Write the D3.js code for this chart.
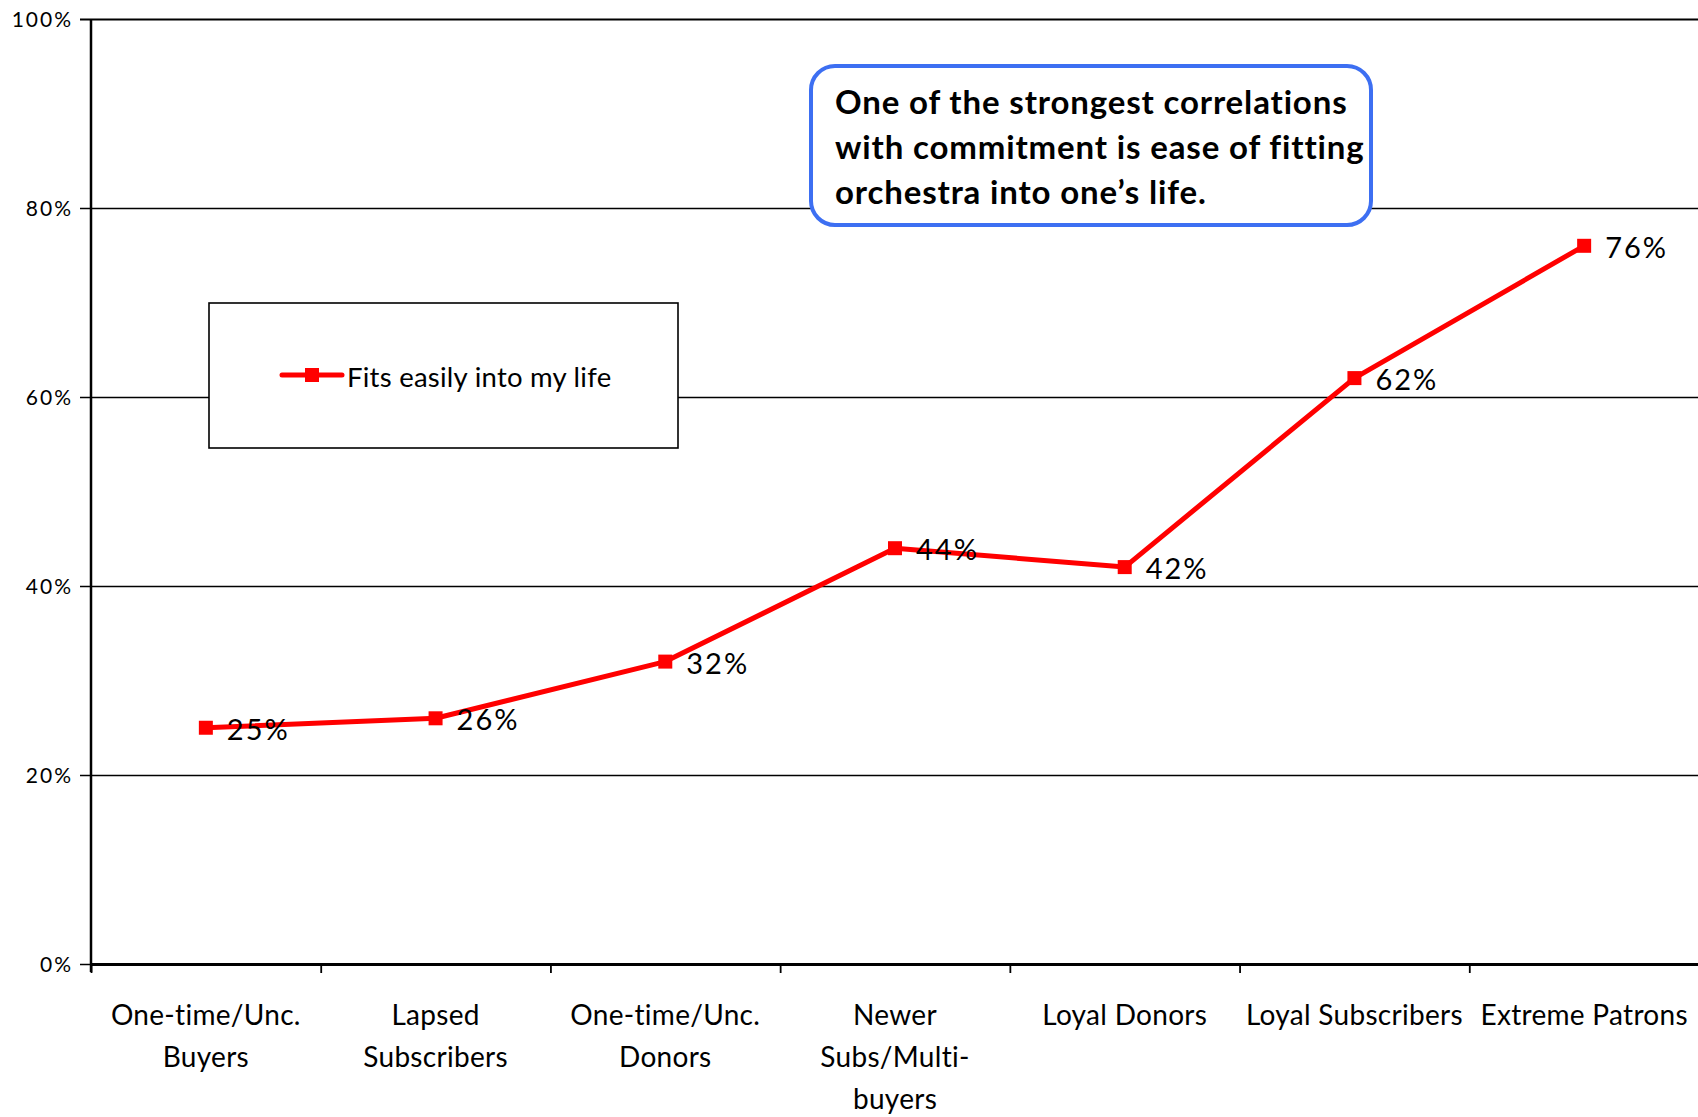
<!DOCTYPE html>
<html>
<head>
<meta charset="utf-8">
<script src="https://cdn.jsdelivr.net/npm/d3@7"></script>
<style>
  html, body { margin: 0; padding: 0; background: #fff; }
  svg { display: block; font-family: "Lato", "Open Sans", sans-serif; }
</style>
</head>
<body>
<svg id="chart" width="1698" height="1117"></svg>
<script>
// Segment names (with the line breaks used under the axis)
const categories = [
  "One-time/Unc. Buyers",
  "Lapsed Subscribers",
  "One-time/Unc. Donors",
  "Newer Subs/Multi-buyers",
  "Loyal Donors",
  "Loyal Subscribers",
  "Extreme Patrons"
];
const categoryLines = [
  ["One-time/Unc.", "Buyers"],
  ["Lapsed", "Subscribers"],
  ["One-time/Unc.", "Donors"],
  ["Newer", "Subs/Multi-", "buyers"],
  ["Loyal Donors"],
  ["Loyal Subscribers"],
  ["Extreme Patrons"]
];
// Share who say the orchestra fits easily into their life
const fitsEasily = [0.25, 0.26, 0.32, 0.44, 0.42, 0.62, 0.76];
const seriesName = "Fits easily into my life";
const yTicks = [0, 0.2, 0.4, 0.6, 0.8, 1.0];
const calloutLines = [
  "One of the strongest correlations",
  "with commitment is ease of fitting",
  "orchestra into one\u2019s life."
];

const svg = d3.select("#chart");
const plotLeft = 91, plotRight = 1699, plotTop = 19, plotBottom = 964;
const plotW = plotRight - plotLeft;

const x = d3.scaleBand().domain(categories).range([plotLeft, plotRight]).padding(0);
const xEdge = d3.scaleLinear().domain([0, categories.length]).range([plotLeft, plotRight]);
const y = d3.scaleLinear().domain([0, 1]).range([plotBottom, plotTop]);
const cx = c => x(c) + x.bandwidth() / 2;

// Horizontal grid + y tick labels
const yAxis = svg.append("g")
  .attr("transform", `translate(${plotLeft},0)`)
  .call(d3.axisLeft(y).tickValues(yTicks).tickFormat(d3.format(".0%"))
    .tickSize(-plotW).tickSizeOuter(0).tickPadding(18));
yAxis.select(".domain").remove();
yAxis.selectAll(".tick line")
  .attr("x1", -11)
  .attr("stroke", "#000")
  .attr("stroke-width", d => (d === 1 ? 2.2 : 1.6));
yAxis.selectAll(".tick text")
  .attr("font-family", "Lato, sans-serif")
  .attr("font-size", 21)
  .attr("letter-spacing", 2)
  .attr("fill", "#000")
  .attr("dy", "0.35em");

// Vertical axis line
svg.append("line")
  .attr("x1", plotLeft).attr("x2", plotLeft)
  .attr("y1", y(1)).attr("y2", y(0) + 8)
  .attr("stroke", "#000").attr("stroke-width", 2.5);

// Category boundary ticks and baseline
const xAxis = svg.append("g")
  .attr("transform", `translate(0,${plotBottom})`)
  .call(d3.axisBottom(xEdge).tickValues(d3.range(0, categories.length + 1))
    .tickFormat("").tickSize(9).tickSizeOuter(0));
xAxis.select(".domain").attr("stroke", "#000").attr("stroke-width", 3);
xAxis.selectAll(".tick line").attr("stroke", "#000").attr("stroke-width", 1.8);

// Category labels
const catLabels = svg.append("g")
  .attr("font-size", 28)
  .attr("letter-spacing", 0.3)
  .attr("fill", "#000")
  .attr("text-anchor", "middle");
categories.forEach((c, i) => {
  const t = catLabels.append("text")
    .attr("x", cx(c))
    .attr("y", 1025);
  categoryLines[i].forEach((ln, j) => {
    t.append("tspan")
      .attr("x", cx(c))
      .attr("dy", j === 0 ? 0 : 42)
      .text(ln);
  });
});

// Series line
const line = d3.line()
  .x((d, i) => cx(categories[i]))
  .y(d => y(d));
svg.append("path")
  .datum(fitsEasily)
  .attr("d", line)
  .attr("fill", "none")
  .attr("stroke", "#ff0000")
  .attr("stroke-width", 5)
  .attr("stroke-linejoin", "round");

// Square markers
const mk = 14;
svg.append("g").selectAll("rect")
  .data(fitsEasily)
  .join("rect")
  .attr("x", (d, i) => cx(categories[i]) - mk / 2)
  .attr("y", d => y(d) - mk / 2)
  .attr("width", mk).attr("height", mk)
  .attr("fill", "#ff0000");

// Value labels
svg.append("g").selectAll("text")
  .data(fitsEasily)
  .join("text")
  .attr("x", (d, i) => cx(categories[i]) + 21)
  .attr("y", d => y(d) + 12)
  .attr("font-size", 29)
  .attr("letter-spacing", 2)
  .attr("fill", "#000")
  .text(d => d3.format(".0%")(d));

// Legend
const lg = svg.append("g");
lg.append("rect")
  .attr("x", 209).attr("y", 303)
  .attr("width", 469).attr("height", 145)
  .attr("fill", "#fff").attr("stroke", "#000").attr("stroke-width", 1.6);
lg.append("line")
  .attr("x1", 282).attr("x2", 342)
  .attr("y1", 375).attr("y2", 375)
  .attr("stroke", "#ff0000").attr("stroke-width", 5).attr("stroke-linecap", "round");
lg.append("rect")
  .attr("x", 312 - mk / 2).attr("y", 375 - mk / 2)
  .attr("width", mk).attr("height", mk)
  .attr("fill", "#ff0000");
lg.append("text")
  .attr("x", 347).attr("y", 387)
  .attr("font-size", 27.5)
  .attr("letter-spacing", 0.25)
  .attr("fill", "#000")
  .text(seriesName);

// Callout box
const cb = svg.append("g");
cb.append("rect")
  .attr("x", 811).attr("y", 66)
  .attr("width", 560).attr("height", 159)
  .attr("rx", 24).attr("ry", 24)
  .attr("fill", "#fff")
  .attr("stroke", "#3d6ff2").attr("stroke-width", 4);
const ct = cb.append("text")
  .attr("font-size", 33)
  .attr("font-weight", "bold")
  .attr("letter-spacing", 0.85)
  .attr("fill", "#000");
calloutLines.forEach((ln, j) => {
  ct.append("tspan")
    .attr("x", 835)
    .attr("y", 114 + j * 45)
    .text(ln);
});
</script>
</body>
</html>
